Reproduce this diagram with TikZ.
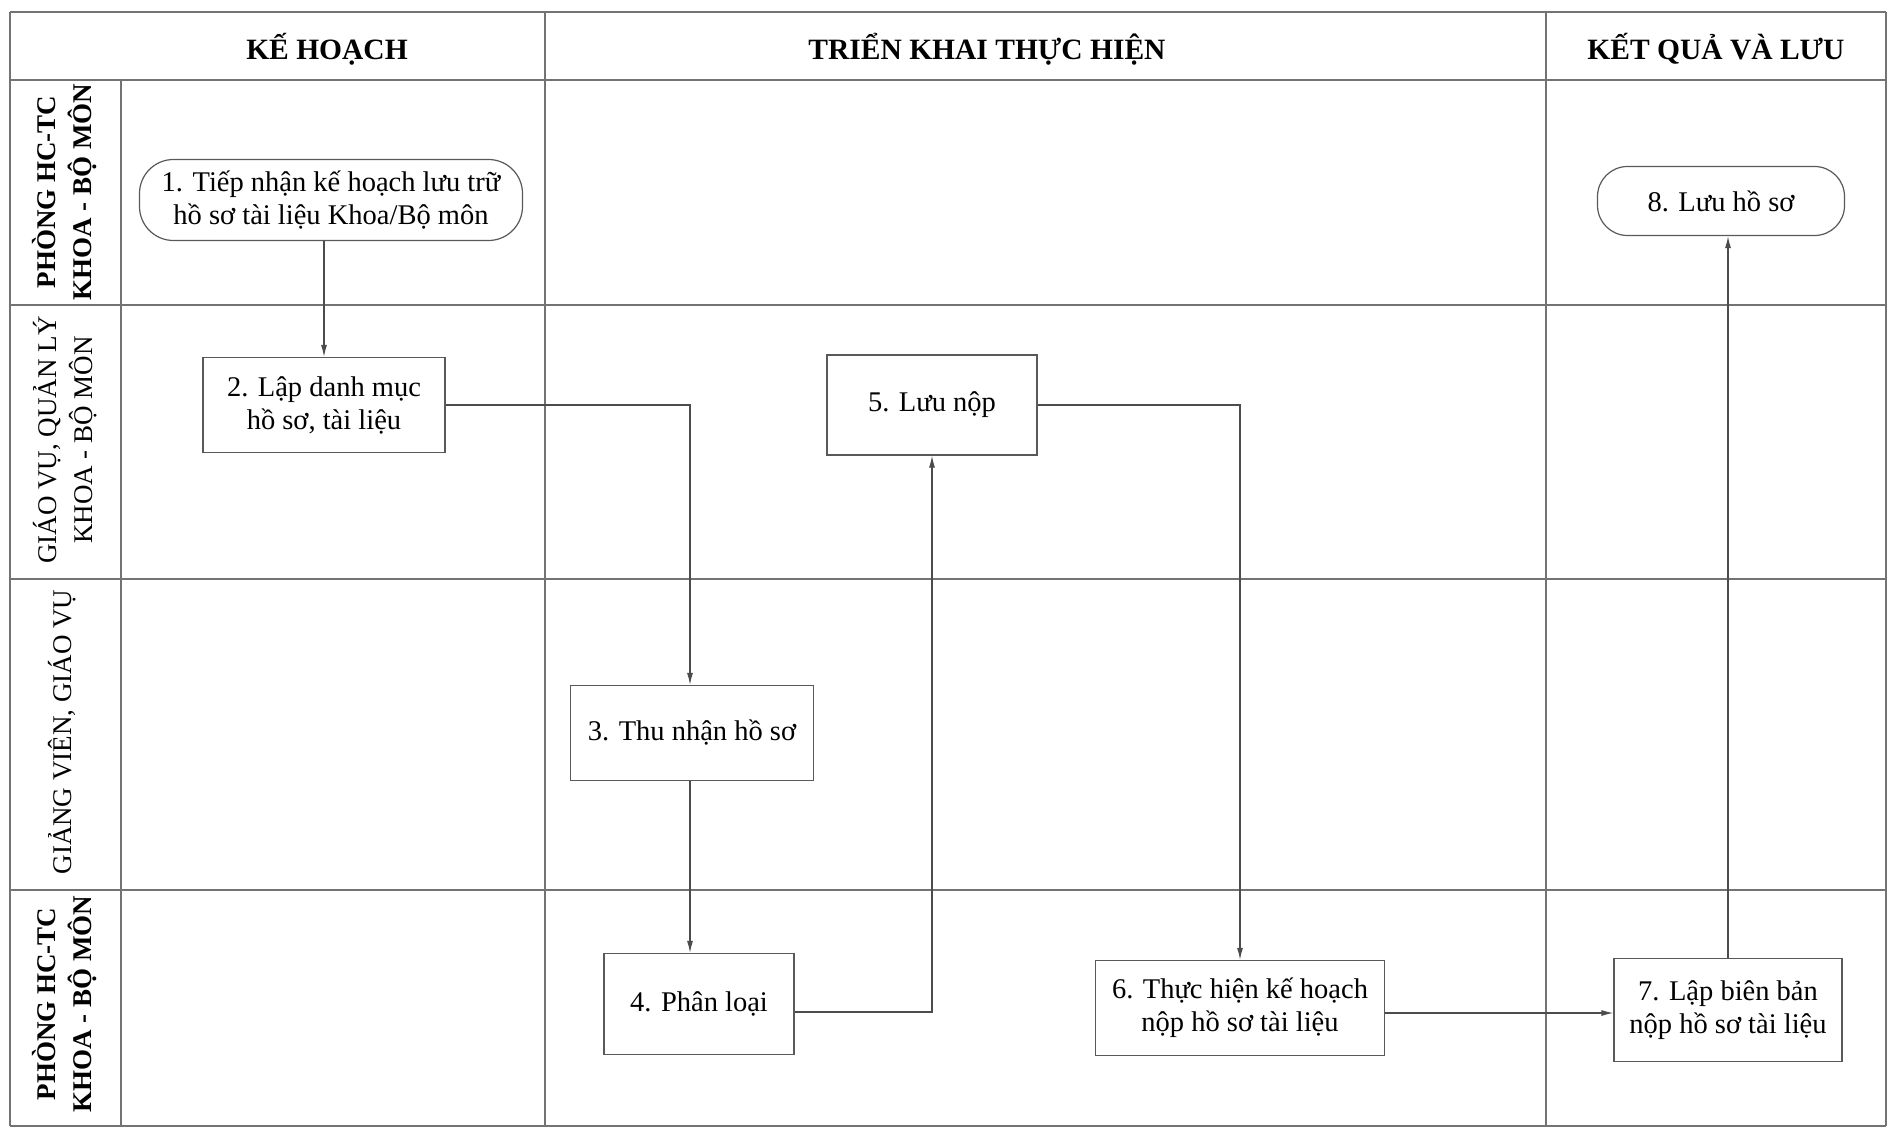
\documentclass[tikz,border=0pt]{standalone}
\usepackage{fontspec}
\setmainfont{Liberation Serif}
\usetikzlibrary{arrows.meta}

\begin{document}
\begin{tikzpicture}[x=1pt, y=-1pt,
	grid/.style={draw=black!55, line width=1.3pt},
	lanetext/.style={rotate=90, align=center, font=\fontsize{27}{36}\selectfont},
	headtext/.style={font=\fontsize{29.5}{34}\selectfont\bfseries},
	procbox/.style={draw=black!65, line width=1.2pt, fill=white, align=center, inner sep=0pt, font=\fontsize{28.5}{33}\selectfont},
	termbox/.style={procbox, rounded corners=34pt},
	flow/.style={draw=black!70, line width=1.2pt, -{Latex[length=12pt,width=6pt]}}]

	\useasboundingbox (0,0) rectangle (1898,1129);

	% lanes
	\draw[grid] (10,12) -- (1886,12);
	\draw[grid] (10,80) -- (1886,80);
	\draw[grid] (10,305) -- (1886,305);
	\draw[grid] (10,579) -- (1886,579);
	\draw[grid] (10,890) -- (1886,890);
	\draw[grid] (10,1126) -- (1886,1126);
	\draw[grid] (10,12) -- (10,1126);
	\draw[grid] (121,80) -- (121,1126);
	\draw[grid] (545,12) -- (545,1126);
	\draw[grid] (1546,12) -- (1546,1126);
	\draw[grid] (1886,12) -- (1886,1126);

	\node[headtext] (hplan) at (327,49) {KẾ HOẠCH};
	\node[headtext] (hdo) at (987,49) {TRIỂN KHAI THỰC HIỆN};
	\node[headtext] (hres) at (1716,49) {KẾT QUẢ VÀ LƯU};

	\node[lanetext, font=\fontsize{27}{36}\selectfont\bfseries] (lane1) at (65,192) {PHÒNG HC-TC\\KHOA - BỘ MÔN};
	\node[lanetext] (lane2) at (65,440) {GIÁO VỤ, QUẢN LÝ\\KHOA - BỘ MÔN};
	\node[lanetext] (lane3) at (62,732) {GIẢNG VIÊN, GIÁO VỤ};
	\node[lanetext, font=\fontsize{27}{36}\selectfont\bfseries] (lane4) at (65,1004) {PHÒNG HC-TC\\KHOA - BỘ MÔN};

	% steps
	\node[termbox, minimum width=383pt, minimum height=81pt] (n1) at (331,200) {1. Tiếp nhận kế hoạch lưu trữ\\hồ sơ tài liệu Khoa/Bộ môn};
	\node[procbox, minimum width=242pt, minimum height=95pt] (n2) at (324,405) {2. Lập danh mục\\hồ sơ, tài liệu};
	\node[procbox, minimum width=243pt, minimum height=95pt] (n3) at (692,733) {3. Thu nhận hồ sơ};
	\node[procbox, minimum width=190pt, minimum height=101pt] (n4) at (699,1004) {4. Phân loại};
	\node[procbox, minimum width=210pt, minimum height=100pt] (n5) at (932,405) {5. Lưu nộp};
	\node[procbox, minimum width=289pt, minimum height=95pt] (n6) at (1240,1008) {6. Thực hiện kế hoạch\\nộp hồ sơ tài liệu};
	\node[procbox, minimum width=228pt, minimum height=103pt] (n7) at (1728,1010) {7. Lập biên bản\\nộp hồ sơ tài liệu};
	\node[termbox, minimum width=247pt, minimum height=69pt, rounded corners=30pt] (n8) at (1721,201) {8. Lưu hồ sơ};

	% flow
	\draw[flow] (n2.north |- n1.south) -- (n2.north);
	\draw[flow] (n2.east) -| ([xshift=-2pt]n3.north);
	\draw[flow] ([xshift=-2pt]n3.south) -- ([xshift=-2pt]n3.south |- n4.north);
	\draw[flow] ([yshift=-8pt]n4.east) -| (n5.south);
	\draw[flow] (n5.east) -| (n6.north);
	\draw[flow] ([yshift=-5pt]n6.east) -- ([yshift=-5pt]n6.east -| n7.west);
	\draw[flow] (n7.north) -- (n7.north |- n8.south);
\end{tikzpicture}
\end{document}
